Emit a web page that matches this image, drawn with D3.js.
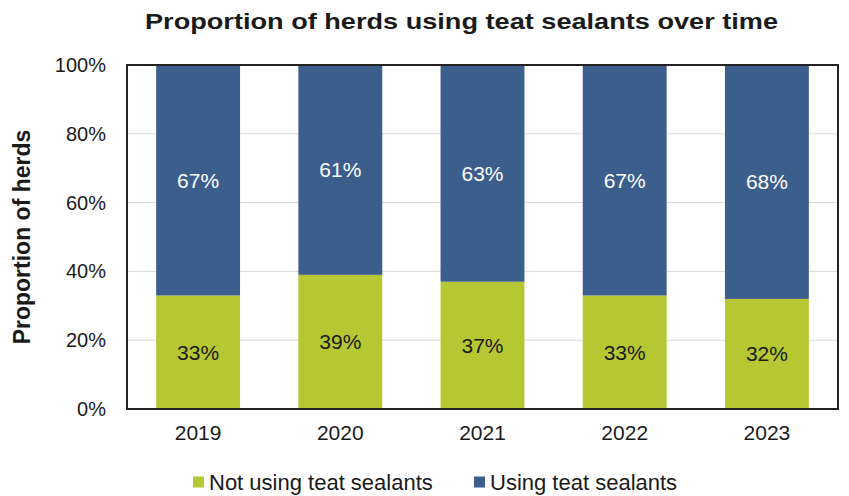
<html>
<head>
  <script src="https://d3js.org/d3.v7.min.js"></script>
  <style>
  body{ margin:0; background:#fff; }
  svg{ display:block; font-family:"Liberation Sans", Arial, sans-serif; }
  </style>
</head>
<body>
  <svg id="chart"></svg>
  <script type="text/javascript">
    var years = ["2019","2020","2021","2022","2023"];
    var notUsing = [33,39,37,33,32];
    var using = [67,61,63,67,68];
    var seriesNames = ["Not using teat sealants","Using teat sealants"];
    var yTicks = [0,20,40,60,80,100];

    var color = ["#b5c733","#3b5e8c"];
    var width = 849, height = 496;
    var plotL = 127, plotR = 838, plotT = 65, plotB = 409;

    var svg = d3.select("#chart").attr("width",width).attr("height",height);

    var x = d3.scaleBand().domain(years).range([plotL,plotR])
        .paddingInner(0.41).paddingOuter(0.205);
    var y = d3.scaleLinear().domain([0,100]).range([plotB,plotT]);

    // gridlines
    svg.append("g").selectAll("line")
       .data(yTicks.slice(1,-1))
       .enter().append("line")
       .attr("x1",plotL).attr("x2",plotR)
       .attr("y1",function(d){ return y(d); })
       .attr("y2",function(d){ return y(d); })
       .attr("stroke","#d9d9d9").attr("stroke-width",1);

    var rows = years.map(function(yr,i){
      return {year:yr, a:notUsing[i], b:using[i]};
    });

    // green bottom
    svg.append("g").selectAll("rect")
       .data(rows).enter().append("rect")
       .attr("x",function(d){ return x(d.year); })
       .attr("width",x.bandwidth())
       .attr("y",function(d){ return y(d.a); })
       .attr("height",function(d){ return y(0)-y(d.a); })
       .attr("fill",color[0]);
    // blue top
    svg.append("g").selectAll("rect")
       .data(rows).enter().append("rect")
       .attr("x",function(d){ return x(d.year); })
       .attr("width",x.bandwidth())
       .attr("y",function(d){ return y(d.a+d.b); })
       .attr("height",function(d){ return y(d.a)-y(d.a+d.b); })
       .attr("fill",color[1]);

    // value labels
    svg.append("g").selectAll("text")
       .data(rows).enter().append("text")
       .attr("x",function(d){ return x(d.year)+x.bandwidth()/2; })
       .attr("y",function(d){ return (y(0)+y(d.a))/2; })
       .attr("dy","0.35em").attr("text-anchor","middle")
       .style("font-size","21px").attr("fill","#1a1a1a")
       .text(function(d){ return d.a+"%"; });
    svg.append("g").selectAll("text")
       .data(rows).enter().append("text")
       .attr("x",function(d){ return x(d.year)+x.bandwidth()/2; })
       .attr("y",function(d){ return (y(d.a)+y(d.a+d.b))/2; })
       .attr("dy","0.35em").attr("text-anchor","middle")
       .style("font-size","21px").attr("fill","#ffffff")
       .text(function(d){ return d.b+"%"; });

    // frame
    svg.append("rect")
       .attr("x",plotL).attr("y",plotT)
       .attr("width",plotR-plotL).attr("height",plotB-plotT)
       .attr("fill","none").attr("stroke","#222").attr("stroke-width",2);

    // y axis
    var yAxis = d3.axisLeft(y).tickValues(yTicks)
        .tickFormat(function(d){ return d+"%"; }).tickSize(0).tickPadding(21);
    var gy = svg.append("g").attr("transform","translate("+plotL+",0)").call(yAxis);
    gy.select(".domain").remove();
    gy.selectAll("text").style("font-size","20px").attr("fill","#1a1a1a")
      .style("font-family","'Liberation Sans', Arial, sans-serif");

    // x axis
    var xAxis = d3.axisBottom(x).tickSize(0).tickPadding(16);
    var gx = svg.append("g").attr("transform","translate(0,"+plotB+")").call(xAxis);
    gx.select(".domain").remove();
    gx.selectAll("text").style("font-size","21px").attr("fill","#1a1a1a")
      .style("font-family","'Liberation Sans', Arial, sans-serif");

    // title
    svg.append("text").attr("x",145).attr("y",29)
       .style("font-size","22px")
       .attr("textLength",633).attr("lengthAdjust","spacingAndGlyphs")
       .style("font-weight","bold").attr("fill","#1a1a1a")
       .text("Proportion of herds using teat sealants over time");

    // y label
    svg.append("text")
       .attr("transform","translate(30,"+((plotT+plotB)/2)+") rotate(-90)")
       .attr("text-anchor","middle").style("font-size","23px")
       .style("font-weight","bold").attr("fill","#1a1a1a")
       .text("Proportion of herds");

    // legend
    var legX = [193,474];
    var leg = svg.append("g").selectAll("g")
       .data(seriesNames).enter().append("g")
       .attr("transform",function(d,i){ return "translate("+legX[i]+",482)"; });
    leg.append("rect").attr("x",0).attr("y",-5.5).attr("width",11).attr("height",11)
       .attr("fill",function(d,i){ return color[i]; });
    leg.append("text").attr("x",16).attr("dy","0.35em")
       .style("font-size","22px").attr("fill","#1a1a1a")
       .text(function(d){ return d; });
  </script>
</body>
</html>
